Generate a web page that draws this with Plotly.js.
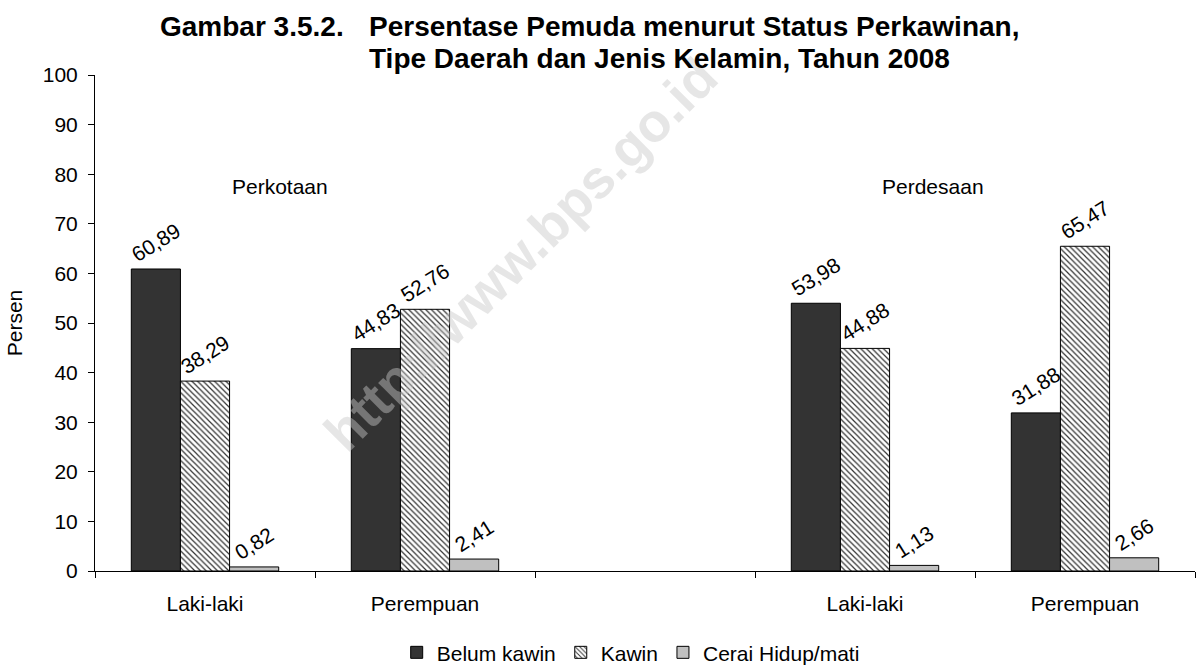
<!DOCTYPE html>
<html>
<head>
<meta charset="utf-8">
<script src="https://cdn.plot.ly/plotly-3.0.1.min.js"></script>
<style>
  html, body { margin: 0; padding: 0; background: #fff; }
  #chart { width: 1198px; height: 666px; }
</style>
</head>
<body>
<div id="chart"></div>
<script>
/* Gambar 3.5.2 — Persentase Pemuda menurut Status Perkawinan */

const categories = ['Perkotaan Laki-laki', 'Perkotaan Perempuan', 'gap', 'Perdesaan Laki-laki', 'Perdesaan Perempuan'];
const tickLabels = ['Laki-laki', 'Perempuan', '', 'Laki-laki', 'Perempuan'];
const belumKawin = [60.89, 44.83, null, 53.98, 31.88];
const kawin      = [38.29, 52.76, null, 44.88, 65.47];
const cerai      = [0.82, 2.41, null, 1.13, 2.66];
const seriesNames = ['Belum kawin', 'Kawin', 'Cerai Hidup/mati'];
const areaLabels = ['Perkotaan', 'Perdesaan'];

const FONT = 'Arial, "Liberation Sans", sans-serif';
const OUTLINE = { color: '#000', width: 1 };

function barTrace(name, values, marker) {
  return {
    type: 'bar',
    name: name,
    x: categories,
    y: values,
    marker: Object.assign({ line: OUTLINE }, marker),
    texttemplate: '%{y:.2f}',
    textposition: 'outside',
    textangle: -32,
    textfont: { family: FONT, size: 21, color: '#000' },
    constraintext: 'none',
    cliponaxis: false,
    hoverinfo: 'skip',
  };
}

const traces = [
  barTrace(seriesNames[0], belumKawin, { color: '#333333' }),
  barTrace(seriesNames[1], kawin, {
    color: '#ffffff',
    pattern: { shape: '\\', fgcolor: '#333333', bgcolor: '#ffffff', size: 4, solidity: 0.3 },
  }),
  barTrace(seriesNames[2], cerai, { color: '#c0c0c0' }),
];

const titleFont = { family: FONT, size: 28, color: '#000' };
const labelFont = { family: FONT, size: 21, color: '#000' };

const annotations = [
  // watermark
  {
    xref: 'paper', yref: 'paper', x: 0.387, y: 0.639, xanchor: 'center', yanchor: 'middle',
    text: '<b>http://www.bps.go.id</b>', showarrow: false, textangle: -45,
    font: { family: FONT, size: 54, color: 'rgba(200,200,200,0.45)' },
  },
  // title
  {
    xref: 'paper', yref: 'paper', x: 0.057, y: 1.0968, xanchor: 'left', yanchor: 'middle',
    text: '<b>Gambar 3.5.2.</b>', showarrow: false, font: titleFont,
  },
  {
    xref: 'paper', yref: 'paper', x: 0.247, y: 1.0968, xanchor: 'left', yanchor: 'middle',
    text: '<b>Persentase Pemuda menurut Status Perkawinan,</b>', showarrow: false, font: titleFont,
  },
  {
    xref: 'paper', yref: 'paper', x: 0.247, y: 1.034, xanchor: 'left', yanchor: 'middle',
    text: '<b>Tipe Daerah dan Jenis Kelamin, Tahun 2008</b>', showarrow: false, font: titleFont,
  },
  // area labels
  { xref: 'x', yref: 'y', x: 0.34, y: 77.6, text: areaLabels[0], showarrow: false, font: labelFont },
  { xref: 'x', yref: 'y', x: 3.31, y: 77.6, text: areaLabels[1], showarrow: false, font: labelFont },
];

const layout = {
  width: 1198,
  height: 666,
  paper_bgcolor: '#fff',
  plot_bgcolor: '#fff',
  font: labelFont,
  separators: ',.',
  margin: { t: 75, r: 3, b: 95, l: 95, autoexpand: false },
  barmode: 'group',
  bargap: 0.33,
  bargroupgap: 0,
  showlegend: true,
  legend: {
    orientation: 'h', x: 0.487, xanchor: 'center',
    yref: 'container', y: 0.02, yanchor: 'middle',
    font: labelFont,
    itemclick: false,
  },
  xaxis: {
    type: 'category',
    categoryorder: 'array',
    categoryarray: categories,
    tickvals: categories,
    ticktext: tickLabels,
    tickson: 'boundaries',
    ticks: 'outside',
    ticklen: 6,
    tickcolor: '#000',
    ticklabelstandoff: 14,
    showline: true,
    linecolor: '#000',
    linewidth: 1,
    showgrid: false,
    zeroline: false,
    tickfont: labelFont,
  },
  yaxis: {
    range: [0, 100],
    dtick: 10,
    ticks: 'outside',
    ticklen: 6,
    tickcolor: '#000',
    ticklabelstandoff: 6,
    showline: true,
    linecolor: '#000',
    linewidth: 1,
    showgrid: false,
    zeroline: false,
    tickfont: labelFont,
    title: { text: 'Persen', font: labelFont, standoff: 14 },
  },
  annotations: annotations,
};

Plotly.newPlot('chart', traces, layout, { displayModeBar: false, staticPlot: true });
</script>
</body>
</html>
